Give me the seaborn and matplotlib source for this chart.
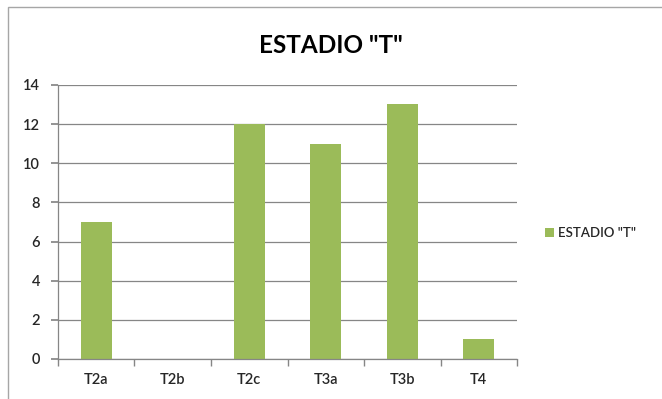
import matplotlib
matplotlib.use("Agg")
import matplotlib.pyplot as plt
from matplotlib.patches import Rectangle
import seaborn as sns
import pandas as pd

categories = ["T2a", "T2b", "T2c", "T3a", "T3b", "T4"]
values = [7, 0, 12, 11, 13, 1]
series_name = 'ESTADIO "T"'
y_ticks = [0, 2, 4, 6, 8, 10, 12, 14]

sns.set_theme(style="white")
plt.rcParams["font.family"] = ["Lato", "DejaVu Sans"]

df = pd.DataFrame({"estadio": categories, "n": values})

fig = plt.figure(figsize=(6.62, 3.99), dpi=100)
ax = fig.add_axes([0.0876, 0.1003, 0.6934, 0.687])

# chart-area frame
fig.patches.append(Rectangle((0.012, -0.05), 1.2, 0.9825 + 0.05, transform=fig.transFigure,
                             fill=False, edgecolor="#a6a6a6", linewidth=1.0))

sns.barplot(data=df, x="estadio", y="n", color="#9BBB59", width=0.4,
            saturation=1, ax=ax, label=series_name, linewidth=0)

ax.set_ylim(0, 14)
ax.set_xlim(-0.5, len(categories) - 0.5)
ax.set_yticks(y_ticks)
ax.set_yticklabels([str(t) for t in y_ticks], fontsize=10.5, fontweight="semibold")
ax.tick_params(axis="y", length=5, color="#868686", pad=8, left=True)
ax.grid(axis="y", color="#868686", linewidth=0.9)
ax.set_axisbelow(True)

# category separator ticks along the x axis
ax.set_xticks([i + 0.5 for i in range(-1, len(categories))], minor=True)
ax.tick_params(axis="x", which="minor", length=5, color="#868686", bottom=True)
ax.tick_params(axis="x", which="major", length=0, pad=10, labelsize=10.5)
for lbl in ax.get_xticklabels():
    lbl.set_fontweight("semibold")

for side in ["top", "right"]:
    ax.spines[side].set_visible(False)
for side in ["left", "bottom"]:
    ax.spines[side].set_color("#868686")
    ax.spines[side].set_linewidth(0.9)

ax.set_xlabel("")
ax.set_ylabel("")

fig.text(0.5, 0.885, series_name, ha="center", va="center",
         fontsize=17.5, fontweight="bold", color="black")

leg = ax.legend(loc="center left", bbox_to_anchor=(1.035, 0.46), frameon=False,
                fontsize=9.5, handlelength=0.7, handleheight=0.7, handletextpad=0.3)
for t in leg.get_texts():
    t.set_fontweight("semibold")

fig.savefig("out.png", dpi=100, facecolor="white")
